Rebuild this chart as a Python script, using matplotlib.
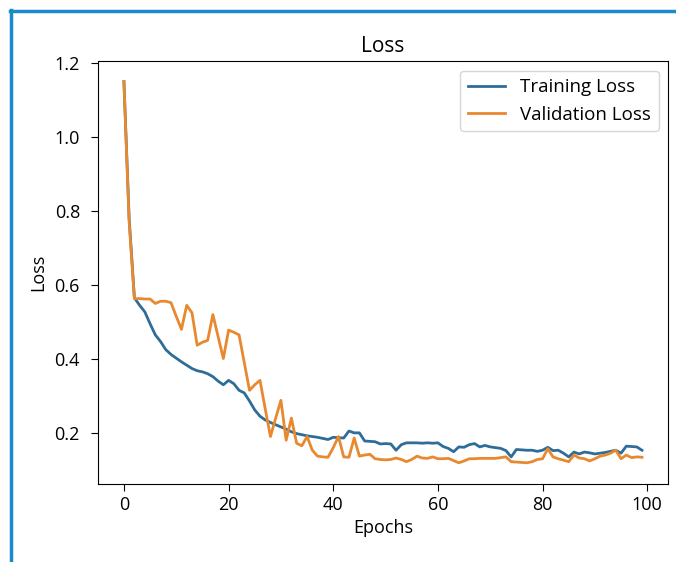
import numpy as np
import matplotlib
matplotlib.use('Agg')
from matplotlib import pyplot as plt
from matplotlib.lines import Line2D

plt.rcParams['font.family'] = ['Open Sans', 'DejaVu Sans']

# values
epochs = np.arange(100)

train_loss = [1.15, 0.78, 0.565, 0.545, 0.527, 0.495, 0.465, 0.447, 0.425, 0.412,
              0.402, 0.392, 0.383, 0.374, 0.368, 0.365, 0.36, 0.352, 0.34, 0.33,
              0.342, 0.333, 0.315, 0.308, 0.286, 0.262, 0.245, 0.235, 0.228, 0.222,
              0.216, 0.21, 0.203, 0.198, 0.195, 0.192, 0.19, 0.188, 0.185, 0.182,
              0.188, 0.187, 0.186, 0.205, 0.2, 0.2, 0.178, 0.177, 0.176, 0.17,
              0.171, 0.17, 0.153, 0.168, 0.173, 0.173, 0.173, 0.172, 0.173, 0.172,
              0.173, 0.163, 0.158, 0.149, 0.162, 0.161, 0.168, 0.171, 0.162, 0.166,
              0.162, 0.16, 0.158, 0.152, 0.135, 0.155, 0.154, 0.153, 0.153, 0.15,
              0.153, 0.161, 0.152, 0.153, 0.145, 0.135, 0.148, 0.143, 0.148, 0.146,
              0.143, 0.145, 0.147, 0.15, 0.153, 0.145, 0.164, 0.163, 0.162, 0.153]

val_loss = [1.15, 0.77, 0.563, 0.563, 0.562, 0.562, 0.55, 0.556, 0.556, 0.552,
            0.515, 0.48, 0.545, 0.525, 0.437, 0.445, 0.45, 0.52, 0.46, 0.401,
            0.478, 0.472, 0.465, 0.39, 0.315, 0.33, 0.342, 0.265, 0.19, 0.24,
            0.288, 0.18, 0.24, 0.172, 0.165, 0.19, 0.153, 0.137, 0.135, 0.134,
            0.16, 0.19, 0.135, 0.134, 0.186, 0.137, 0.14, 0.142, 0.13, 0.128,
            0.127, 0.128, 0.132, 0.128, 0.122, 0.128, 0.137, 0.132, 0.131, 0.135,
            0.13, 0.13, 0.131, 0.125, 0.119, 0.124, 0.13, 0.13, 0.131, 0.131,
            0.131, 0.131, 0.133, 0.135, 0.122, 0.121, 0.12, 0.119, 0.122, 0.128,
            0.13, 0.157, 0.135, 0.13, 0.126, 0.122, 0.14, 0.132, 0.13, 0.124,
            0.13, 0.137, 0.14, 0.145, 0.153, 0.13, 0.14, 0.133, 0.135, 0.134]

fig = plt.figure(figsize=(6.76, 5.62), dpi=100)
ax = fig.add_axes([0.145, 0.139, 0.843, 0.752])

ax.plot(epochs, train_loss, color='#2f6d99', lw=2, label='Training Loss')
ax.plot(epochs, val_loss, color='#e8892f', lw=2, label='Validation Loss')

ax.set_ylim(0.062, 1.205)
ax.set_xticks([0, 20, 40, 60, 80, 100])
ax.set_yticks([0.2, 0.4, 0.6, 0.8, 1.0, 1.2])
ax.tick_params(axis='x', labelsize=13, length=5, pad=4)
ax.tick_params(axis='y', labelsize=13, length=5, pad=8)
ax.set_title('Loss', fontsize=15, pad=7)
ax.set_xlabel('Epochs', fontsize=13, labelpad=3)
ax.set_ylabel('Loss', fontsize=13, labelpad=5)
ax.legend(fontsize=13.5, loc='upper right', handlelength=2.0, borderaxespad=0.5)

# blue frame round the screenshot (top and left edges only)
frame_col = '#1b8ac8'
fig.add_artist(Line2D([10 / 676, 1], [1 - 11 / 562, 1 - 11 / 562], color=frame_col, lw=2.5, transform=fig.transFigure))
fig.add_artist(Line2D([11 / 676, 11 / 676], [0, 1 - 10 / 562], color=frame_col, lw=2.5, transform=fig.transFigure))

fig.savefig('out.png', dpi=100)
